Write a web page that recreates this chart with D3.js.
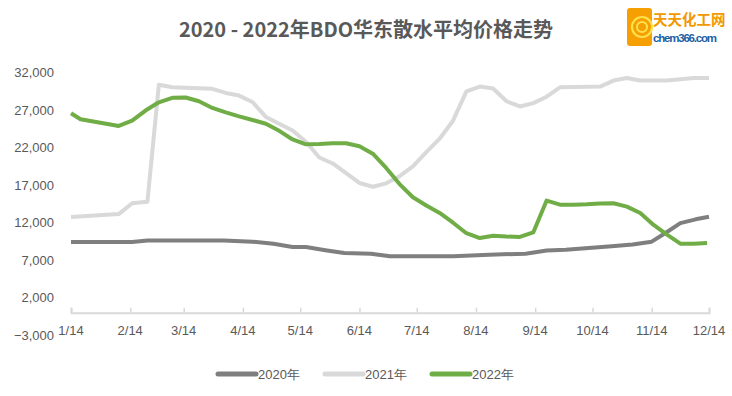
<!DOCTYPE html>
<html>
<head>
<meta charset="utf-8">
<script src="https://cdn.jsdelivr.net/npm/d3@7"></script>
<style>
  body { margin: 0; background: #fff; }
  svg { display: block; font-family: "Liberation Sans", Arial, sans-serif; }
</style>
</head>
<body>
<svg id="canvas" width="732" height="396"></svg>
<script>
// dati (mese/giorno, prezzo yuan/t)
const date2020 = ["1/14","2/15","2/23","4/4","4/19","4/30","5/10","5/17","5/28","6/6","6/20","6/30","8/2","8/21","9/9","9/20","9/30","10/24","11/4","11/14","11/21","11/29","12/7","12/14"];
const valori2020 = [9420,9420,9640,9640,9470,9200,8760,8760,8300,7950,7870,7520,7520,7740,7870,8300,8400,8850,9100,9470,10600,11950,12450,12800];

const date2021 = ["1/14","2/8","2/15","2/23","3/1","3/8","3/29","4/5","4/12","4/19","4/26","5/3","5/10","5/17","5/24","5/31","6/7","6/14","6/21","6/28","7/5","7/12","7/19","7/26","8/2","8/9","8/16","8/23","8/30","9/6","9/13","9/20","9/27","10/18","10/25","11/1","11/8","11/22","12/6","12/14"];
const valori2021 = [12750,13150,14600,14800,30400,30050,29850,29300,28950,28100,26100,25200,24300,22800,20700,19900,18600,17300,16800,17250,18200,19500,21400,23200,25600,29500,30150,29900,28200,27500,27950,28800,30050,30150,30950,31300,30950,30950,31300,31300];

const date2022 = ["1/14","1/19","2/8","2/15","2/22","3/1","3/8","3/15","3/22","3/29","4/5","4/12","4/19","4/26","5/3","5/10","5/17","5/24","5/31","6/7","6/14","6/21","6/28","7/5","7/12","7/19","7/26","8/2","8/9","8/16","8/23","8/30","9/6","9/13","9/20","9/27","10/4","10/11","10/18","10/25","11/1","11/8","11/15","11/22","11/29","12/6","12/13"];
const valori2022 = [26600,25800,24900,25600,26950,28050,28650,28700,28200,27300,26700,26170,25700,25200,24250,23100,22450,22500,22600,22600,22200,21200,19300,17150,15400,14300,13300,12000,10600,9950,10250,10150,10100,10700,14950,14400,14400,14450,14550,14600,14150,13300,11700,10400,9200,9200,9300];

const etichetteX = ["1/14","2/14","3/14","4/14","5/14","6/14","7/14","8/14","9/14","10/14","11/14","12/14"];
const ticksY = [-3000,2000,7000,12000,17000,22000,27000,32000];
const nomiSerie = ["2020年","2021年","2022年"];
const coloriSerie = ["#7f7f7f","#d9d9d9","#70ad47"];

const titolo = "2020 - 2022年BDO华东散水平均价格走势";

const svg = d3.select("#canvas");
const leggiData = d3.timeParse("%Y/%m/%d");
const inData = s => leggiData("2021/" + s);

const scalaX = d3.scaleTime()
  .domain([inData("1/14"), inData("12/14")])
  .range([71, 709]);

const scalaY = d3.scaleLinear()
  .domain([-3000, 32000])
  .range([335.2, 72.7]);

// titolo
svg.append("text")
  .attr("x", 366)
  .attr("y", 37)
  .attr("text-anchor", "middle")
  .attr("font-family", "'Noto Sans CJK SC', sans-serif")
  .attr("font-size", 20)
  .attr("font-weight", "bold")
  .attr("fill", "#595959")
  .text(titolo);

// logo
const logo = svg.append("g");
logo.append("rect")
  .attr("x", 627).attr("y", 8).attr("width", 25).attr("height", 38)
  .attr("rx", 3).attr("fill", "#f5a000");
[10, 7.5, 5, 2.5].forEach((r, i) => {
  logo.append("circle")
    .attr("cx", 642).attr("cy", 27).attr("r", r)
    .attr("fill", "none")
    .attr("stroke", i % 2 === 0 ? "#ffe14d" : "#f5a000")
    .attr("stroke-width", 2.2);
});
logo.append("text")
  .attr("x", 653).attr("y", 25)
  .attr("font-family", "'Noto Sans CJK SC', sans-serif")
  .attr("font-size", 14.5).attr("font-weight", "bold")
  .attr("fill", "#f39800")
  .text("天天化工网");
logo.append("text")
  .attr("x", 653).attr("y", 42)
  .attr("font-size", 11.5).attr("font-weight", "bold")
  .attr("fill", "#1d5fa6")
  .attr("textLength", 64)
  .text("chem366.com");

// asse Y (solo etichette)
svg.append("g")
  .selectAll("text")
  .data(ticksY)
  .enter()
  .append("text")
  .attr("x", 54)
  .attr("y", d => scalaY(d))
  .attr("dy", "0.35em")
  .attr("text-anchor", "end")
  .attr("font-size", 13)
  .attr("fill", "#595959")
  .text(d => d3.format(",")(d));

// asse X sullo zero
const asseX = svg.append("g")
  .attr("transform", `translate(0,${scalaY(0)})`)
  .call(d3.axisBottom(scalaX)
    .tickValues(etichetteX.map(inData))
    .tickSize(-5)
    .tickFormat(() => ""));
asseX.select(".domain").attr("stroke", "#d9d9d9").attr("stroke-width", 2);
asseX.selectAll(".tick line").attr("stroke", "#d9d9d9").attr("stroke-width", 1.5);

svg.append("g")
  .selectAll("text")
  .data(etichetteX)
  .enter()
  .append("text")
  .attr("x", d => scalaX(inData(d)))
  .attr("y", 330)
  .attr("dy", "0.35em")
  .attr("text-anchor", "middle")
  .attr("font-size", 13)
  .attr("fill", "#595959")
  .text(d => d);

// linee
const serie = [
  { date: date2020, valori: valori2020 },
  { date: date2021, valori: valori2021 },
  { date: date2022, valori: valori2022 }
];

const linea = d3.line()
  .x(d => scalaX(d[0]))
  .y(d => scalaY(d[1]));

serie.forEach((s, i) => {
  const punti = s.date.map((d, j) => [inData(d), s.valori[j]]);
  svg.append("path")
    .datum(punti)
    .attr("d", linea)
    .attr("fill", "none")
    .attr("stroke", coloriSerie[i])
    .attr("stroke-width", 4)
    .attr("stroke-linejoin", "round");
});

// legenda
const posLegenda = [218, 325, 432];
const legenda = svg.append("g");
nomiSerie.forEach((nome, i) => {
  const x0 = posLegenda[i];
  legenda.append("line")
    .attr("x1", x0).attr("x2", x0 + 38)
    .attr("y1", 374).attr("y2", 374)
    .attr("stroke", coloriSerie[i])
    .attr("stroke-width", 5)
    .attr("stroke-linecap", "round");
  legenda.append("text")
    .attr("x", x0 + 40)
    .attr("y", 374)
    .attr("dy", "0.35em")
    .attr("font-size", 13)
    .attr("fill", "#595959")
    .text(nome);
});
</script>
</body>
</html>
